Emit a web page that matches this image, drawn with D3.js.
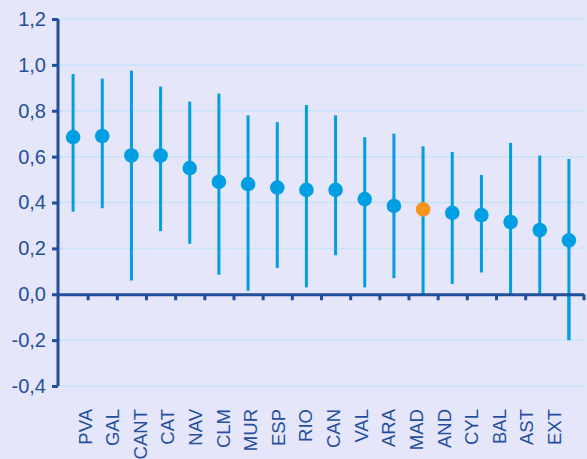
<!DOCTYPE html>
<html>
<head>
<meta charset="utf-8">
<script src="https://cdn.jsdelivr.net/npm/d3@7"></script>
<style>
  html, body { margin: 0; padding: 0; background: #e6e6fa; }
  svg { display: block; font-family: "Liberation Sans", Arial, sans-serif; }
</style>
</head>
<body>
<script>
//-----------------Data----------------
const regions = ["PVA", "GAL", "CANT", "CAT", "NAV", "CLM", "MUR", "ESP", "RIO", "CAN", "VAL", "ARA", "MAD", "AND", "CYL", "BAL", "AST", "EXT"];
const estimates = [0.685, 0.69, 0.605, 0.605, 0.55, 0.49, 0.48, 0.465, 0.455, 0.455, 0.415, 0.385, 0.37, 0.355, 0.345, 0.315, 0.28, 0.235];
const upper = [0.96, 0.94, 0.975, 0.905, 0.84, 0.875, 0.78, 0.75, 0.825, 0.78, 0.685, 0.70, 0.645, 0.62, 0.52, 0.66, 0.605, 0.59];
const lower = [0.36, 0.375, 0.06, 0.275, 0.22, 0.085, 0.015, 0.115, 0.03, 0.17, 0.03, 0.07, 0.0, 0.045, 0.095, 0.0, 0.0, -0.2];
const highlight = "MAD";
const yTicks = [-0.4, -0.2, 0, 0.2, 0.4, 0.6, 0.8, 1.0, 1.2];

//-----------------Svg----------------
const width = 587, height = 459;
const axisColor = "#1f4f9d";
const dotColor = "#009ee2";

const svg = d3.select("body").append("svg").attr("width", width).attr("height", height);

const y = d3.scaleLinear().domain([-0.4, 1.2]).range([386, 19]);
const x = d3.scaleBand().domain(regions).range([58.5, 583.5]);
const xLabel = d3.scalePoint().domain(regions).range([85, 554.5]);
const xTicks = d3.scaleLinear().domain([0, regions.length]).range([58.5, 583.5]);

const fmt = (v) => d3.format(".1f")(v).replace(".", ",").replace("−", "-");

// grid lines
svg.append("g")
  .selectAll("line")
  .data(yTicks.filter((t) => t !== 0))
  .enter()
  .append("line")
  .attr("x1", 58)
  .attr("x2", 586)
  .attr("y1", (d) => y(d))
  .attr("y2", (d) => y(d))
  .attr("stroke", "#c6e4f8")
  .attr("stroke-width", 1.5);

// y axis
const yAxis = svg.append("g")
  .attr("transform", "translate(58,0)")
  .call(d3.axisLeft(y).tickValues(yTicks).tickFormat(fmt).tickSize(6).tickPadding(6));
yAxis.select(".domain").attr("stroke", axisColor).attr("stroke-width", 3).attr("d", `M0,${y(1.2)}V${y(-0.4)}`);
yAxis.selectAll(".tick line").attr("stroke", axisColor).attr("stroke-width", 3);
yAxis.selectAll(".tick text").attr("fill", axisColor).style("font-size", "20px").attr("font-family", "Liberation Sans, Arial, sans-serif");

// error bars
const marks = svg.append("g")
  .selectAll("g")
  .data(regions)
  .enter()
  .append("g")
  .attr("transform", (d) => `translate(${x(d) + x.bandwidth() / 2},0)`);

marks.append("line")
  .attr("y1", (d, i) => y(upper[i]))
  .attr("y2", (d, i) => y(lower[i]))
  .attr("stroke", dotColor)
  .attr("stroke-width", 3);

// x axis (at zero)
const xAxis = svg.append("g")
  .attr("transform", `translate(0,${y(0)})`)
  .call(d3.axisBottom(xTicks).ticks(regions.length).tickFormat("").tickSize(6).tickSizeOuter(0));
xAxis.select(".domain").attr("stroke", axisColor).attr("stroke-width", 3);
xAxis.selectAll(".tick line").attr("stroke", axisColor).attr("stroke-width", 3);
xAxis.selectAll(".tick").filter((d) => d === 0).remove();

// error bar below axis stays visible
marks.filter((d, i) => lower[i] < 0)
  .append("line")
  .attr("y1", y(0))
  .attr("y2", (d) => y(lower[regions.indexOf(d)]))
  .attr("stroke", dotColor)
  .attr("stroke-width", 3);

marks.append("circle")
  .attr("cy", (d, i) => y(estimates[i]))
  .attr("r", 7.3)
  .attr("fill", (d) => (d === highlight ? "#f7941e" : dotColor));

// category labels
svg.append("g")
  .selectAll("text")
  .data(regions)
  .enter()
  .append("text")
  .attr("transform", (d) => `translate(${xLabel(d) + 6.5},409) rotate(-90)`)
  .attr("text-anchor", "end")
  .attr("fill", axisColor)
  .style("font-size", "18.5px")
  .text((d) => d);
</script>
</body>
</html>
